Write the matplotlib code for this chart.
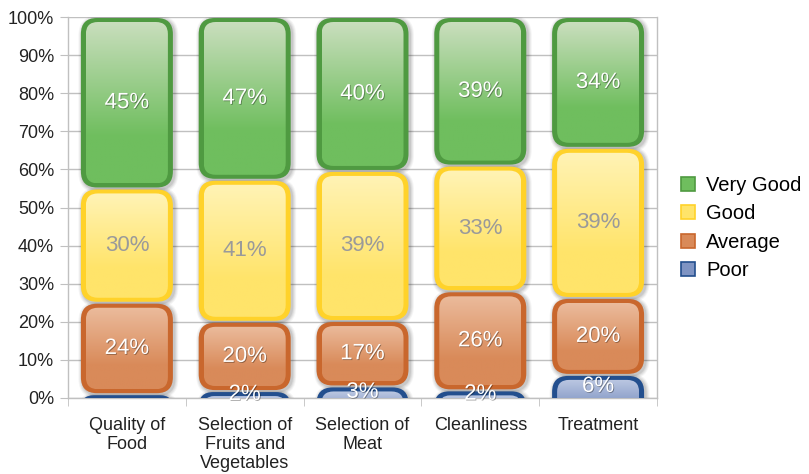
import matplotlib
matplotlib.use("Agg")
import matplotlib.pyplot as plt
import numpy as np
from matplotlib.patches import FancyBboxPatch, Patch
from matplotlib.colors import to_rgb
import matplotlib.patheffects as pe

categories = ["Quality of\nFood", "Selection of\nFruits and\nVegetables", "Selection of\nMeat", "Cleanliness", "Treatment"]
series_names = ["Poor", "Average", "Good", "Very Good"]
poor = [1, 2, 3, 2, 6]
average = [24, 20, 17, 26, 20]
good = [30, 41, 39, 33, 39]
very_good = [45, 47, 40, 39, 34]
y_ticks = [0, 10, 20, 30, 40, 50, 60, 70, 80, 90, 100]
y_tick_labels = ["0%", "10%", "20%", "30%", "40%", "50%", "60%", "70%", "80%", "90%", "100%"]

# style: (edge, top fill, bottom fill, label color)
styles = {
    "Poor": ("#234F8E", "#BCC8E2", "#7F94C3", "white"),
    "Average": ("#C9672D", "#EBBB9C", "#D98A59", "white"),
    "Good": ("#FFD22A", "#FFF3B5", "#FFE46A", "#9A9A9A"),
    "Very Good": ("#4F9A41", "#C9DEBD", "#6FBE5E", "white"),
}

plt.rcParams['font.family'] = ['Liberation Sans', 'DejaVu Sans']

W, H = 809, 474
fig = plt.figure(figsize=(W / 100, H / 100), dpi=100)
ax = fig.add_axes([68 / W, 1 - 398 / H, (657 - 68) / W, (398 - 17) / H])

data = np.array([poor, average, good, very_good], dtype=float)
totals = data.sum(axis=0)
pct = data / totals * 100
bottoms = np.vstack([np.zeros(len(categories)), np.cumsum(pct, axis=0)[:-1]])
x = np.arange(len(categories))

ax.set_xlim(-0.5, len(categories) - 0.5)
ax.set_ylim(0, 100)

# pixel scales
px_x = (657 - 68) / len(categories)   # px per x unit
px_y = (398 - 17) / 100.0            # px per y unit
aspect = px_x / px_y

bar_w = 92 / px_x


def rounded(x0, y0, w, h, r_px, **kw):
    r = r_px / px_x
    r = min(r, w / 2, (h / aspect) / 2)
    return FancyBboxPatch((x0, y0), w, h,
                          boxstyle=f"round,pad=0,rounding_size={r}",
                          mutation_aspect=aspect, **kw)


for si, name in enumerate(series_names):
    edge, ctop, cbot, lcol = styles[name]
    bars = ax.bar(x, pct[si], bottom=bottoms[si], width=bar_w, visible=False)
    for ci, b in enumerate(bars):
        x0, y0, w, h = b.get_x(), b.get_y(), b.get_width(), b.get_height()
        gap = 1.0 / px_y
        y0d = y0 + gap
        hd = h - 2 * gap
        if si == 0:
            # bottom segment continues below the axis (clipped)
            y0d = y0 - 6
            hd = h + 6 - gap
        # shadow
        for k, a in enumerate([0.04, 0.05, 0.06, 0.08]):
            e = (4 - k) * 1.0
            sh = rounded(x0 - e / px_x + 1.5 / px_x, y0d - e / px_y - 1.5 / px_y,
                         w + 2 * e / px_x, hd + 2 * e / px_y, 16 + e,
                         facecolor="black", edgecolor="none", alpha=a, zorder=2)
            ax.add_patch(sh)
        outer = rounded(x0, y0d, w, hd, 16, facecolor=edge, edgecolor="none", zorder=3)
        ax.add_patch(outer)
        ix = 5.0 / px_x
        iy = 4.0 / px_y
        inner = rounded(x0 + ix, y0d + iy, w - 2 * ix, hd - 2 * iy, 12,
                        facecolor="none", edgecolor="none", zorder=4)
        ax.add_patch(inner)
        c1 = np.array(to_rgb(ctop))
        c2 = np.array(to_rgb(cbot))
        t = np.linspace(0, 1, 64)[:, None]
        t = np.clip(t * 1.4, 0, 1)
        grad = (c1 * (1 - t) + c2 * t)[:, None, :]
        im = ax.imshow(grad, extent=[x0 + ix, x0 + w - ix, y0d + iy, y0d + hd - iy],
                       aspect="auto", origin="upper", zorder=4, interpolation="bilinear")
        im.set_clip_path(inner)
        val = data[si, ci]
        if val >= 2:
            txt = ax.text(x0 + w / 2, y0 + h / 2, f"{int(val)}%", ha="center", va="center",
                          fontsize=16, color=lcol, zorder=6)
            if lcol == "white":
                txt.set_path_effects([pe.withSimplePatchShadow(offset=(0.6, -0.6),
                                                               shadow_rgbFace="black", alpha=0.35)])

ax.set_aspect("auto")
ax.set_xlim(-0.5, len(categories) - 0.5)
ax.set_ylim(0, 100)

ax.set_yticks(y_ticks)
ax.set_yticklabels(y_tick_labels, fontsize=13, color="#222222")
ax.yaxis.grid(True, color="#C0C0C0", linewidth=1.0, zorder=0)
ax.set_axisbelow(True)
ax.tick_params(axis="y", length=6, color="#C0C0C0", pad=4)

ax.set_xticks(x)
ax.set_xticklabels(categories, fontsize=13, color="#222222", linespacing=1.15)
ax.set_xticks(np.arange(-0.5, len(categories)), minor=True)
ax.tick_params(axis="x", which="major", length=0, pad=14)
ax.tick_params(axis="x", which="minor", length=6, color="#C0C0C0")

for s in ["left", "bottom", "right"]:
    ax.spines[s].set_color("#C0C0C0")
    ax.spines[s].set_linewidth(1.0)
ax.spines["top"].set_visible(False)

handles = [Patch(facecolor=styles[n][2], edgecolor=styles[n][0], linewidth=1.2, label=n)
           for n in ["Very Good", "Good", "Average", "Poor"]]
fig.legend(handles=handles, loc="center left", bbox_to_anchor=(681 / W, 1 - 228 / H),
           frameon=False, fontsize=14.5, handlelength=0.7, handleheight=0.7,
           handletextpad=0.55, labelspacing=0.46, borderpad=0, borderaxespad=0)

fig.savefig("out.png", dpi=100)
